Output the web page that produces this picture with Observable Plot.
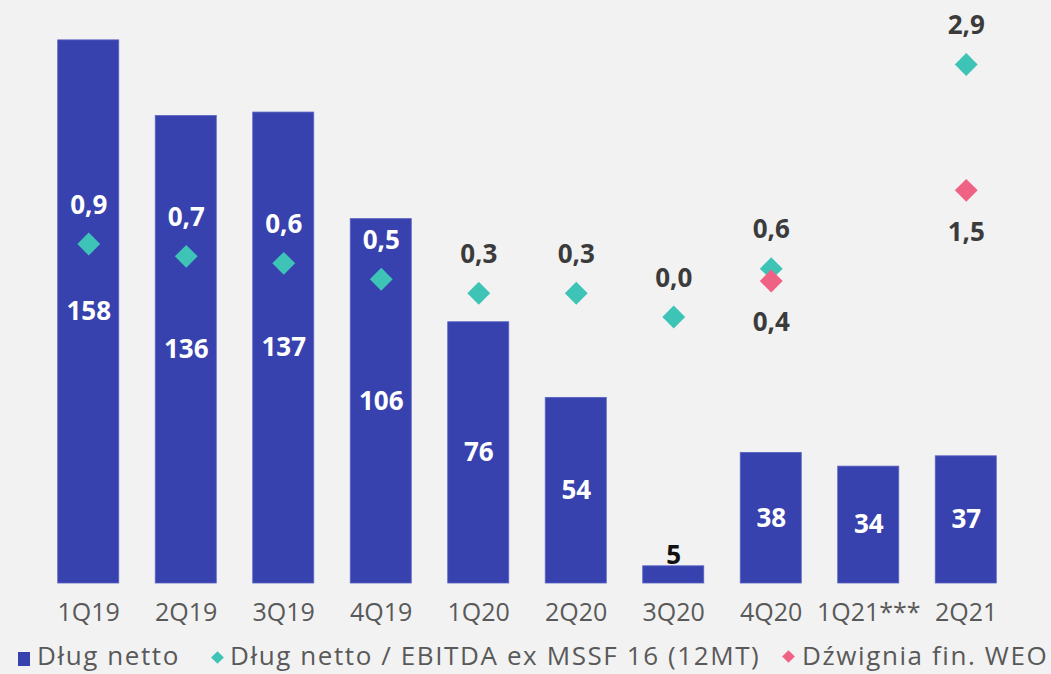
<!DOCTYPE html>
<html>
<head>
<meta charset="utf-8">
<script src="https://cdn.jsdelivr.net/npm/d3@7"></script>
<script src="https://cdn.jsdelivr.net/npm/@observablehq/plot@0.6"></script>
<style>
  html, body { margin: 0; padding: 0; background: #f2f2f2; }
  #wrap { position: relative; width: 1051px; height: 674px; background: #f2f2f2; overflow: hidden;
          font-family: "Open Sans", sans-serif; }
  #wrap > .layer { position: absolute; left: 0; top: 0; }
  .lt { position: absolute; top: 640px; font-size: 26px; line-height: 30px; height: 30px; letter-spacing: 1.6px;
        color: #595959; white-space: nowrap; font-family: "Open Sans", sans-serif; }
  .sq { position: absolute; }
  .dm { position: absolute; width: 9px; height: 9px; transform: rotate(45deg); }
</style>
</head>
<body>
<div id="wrap"></div>
<script>
// ---- data ----
const quarters = ["1Q19", "2Q19", "3Q19", "4Q19", "1Q20", "2Q20", "3Q20", "4Q20", "1Q21***", "2Q21"];
const netDebt = [158, 136, 137, 106, 76, 54, 5, 38, 34, 37];
const ratioQuarters = ["1Q19", "2Q19", "3Q19", "4Q19", "1Q20", "2Q20", "3Q20", "4Q20", "2Q21"];
const ratioValues = [0.86, 0.72, 0.64, 0.46, 0.30, 0.30, 0.03, 0.58, 2.90];
const leverageQuarters = ["4Q20", "2Q21"];
const leverageValues = [0.44, 1.47];
const legendLabels = ["Dług netto", "Dług netto / EBITDA ex MSSF 16 (12MT)", "Dźwignia fin. WEO"];

// ---- styles ----
const BLUE = "#3742ae", TEAL = "#3ec4b7", PINK = "#f06283", DARK = "#3b3b3b";
const W = 1051, H = 632, MB = 49, ML = 39.5, MR = 36.5;
const FONT = "Open Sans, sans-serif";
const xOpts = {domain: quarters, paddingInner: 0.374, paddingOuter: 0.187, align: 0.5, round: false};
const fmt = v => v.toFixed(1).replace(".", ",");

const bars = quarters.map((q, i) => ({q, v: netDebt[i]}));
const ratios = ratioQuarters.map((q, i) => ({q, v: ratioValues[i]}));
const levers = leverageQuarters.map((q, i) => ({q, v: leverageValues[i]}));

const p1 = Plot.plot({
  width: W, height: H, marginTop: 0, marginBottom: MB, marginLeft: ML, marginRight: MR,
  style: {background: "transparent", fontFamily: FONT, overflow: "visible"},
  x: {...xOpts, axis: null},
  y: {domain: [0, 169.6], axis: null},
  marks: [
    Plot.barY(bars, {x: "q", y: "v", fill: BLUE, stroke: "#5a63c2", strokeWidth: 0.8}),
    Plot.ruleY([0], {stroke: "#d9d9d9", strokeWidth: 2, dy: 1, x1: 38, x2: 1013.5}),
    Plot.axisX({tickSize: 0, tickPadding: 20, fontSize: 25, fill: "#595959", label: null}),
    Plot.text(bars.filter(d => d.v >= 20), {x: "q", y: d => d.v / 2, text: d => String(d.v),
      fill: "white", fontWeight: 700, fontSize: 26}),
    Plot.text(bars.filter(d => d.v < 20), {x: "q", y: "v", dy: -11, text: d => String(d.v),
      fill: "#111", fontWeight: 700, fontSize: 26})
  ]
});
p1.classList.add("layer");

const yBar = p1.scale("y");
const barTop = new Map(bars.map(d => [d.q, yBar.apply(d.v)]));

const y2Domain = [-2.998, 3.627];
const y2 = d3.scaleLinear().domain(y2Domain).range([H - MB, 0]);
const insideBar = d => y2(d.v) - 38.5 - 12 > barTop.get(d.q);

const p2 = Plot.plot({
  width: W, height: H, marginTop: 0, marginBottom: MB, marginLeft: ML, marginRight: MR,
  style: {background: "transparent", fontFamily: FONT, overflow: "visible"},
  x: {...xOpts, axis: null},
  y: {domain: y2Domain, axis: null},
  marks: [
    Plot.dot(ratios, {x: "q", y: "v", symbol: "diamond2", r: 10.3, fill: TEAL}),
    Plot.dot(levers, {x: "q", y: "v", symbol: "diamond2", r: 10.3, fill: PINK}),
    Plot.text(ratios, {x: "q", y: "v", dy: -38.5, text: d => fmt(d.v),
      fill: d => insideBar(d) ? "white" : DARK, fontWeight: 700, fontSize: 26}),
    Plot.text(levers, {x: "q", y: "v", dy: 42, text: d => fmt(d.v),
      fill: DARK, fontWeight: 700, fontSize: 26})
  ]
});
p2.classList.add("layer");

const wrap = document.getElementById("wrap");
wrap.appendChild(p1);
wrap.appendChild(p2);

// ---- legend ----
const legend = [
  {marker: "sq", color: BLUE, mx: 18, my: 652, text: legendLabels[0], tx: 37},
  {marker: "dm", color: TEAL, mx: 217, my: 657, text: legendLabels[1], tx: 230},
  {marker: "dm", color: PINK, mx: 788, my: 656.5, text: legendLabels[2], tx: 802}
];
legend.forEach(item => {
  const m = document.createElement("div");
  if (item.marker === "sq") {
    m.className = "sq";
    Object.assign(m.style, {left: item.mx + "px", top: item.my + "px", width: "12px", height: "14px", background: item.color});
  } else {
    m.className = "dm";
    Object.assign(m.style, {left: (item.mx - 4.5) + "px", top: (item.my - 4.5) + "px", background: item.color});
  }
  wrap.appendChild(m);
  const t = document.createElement("span");
  t.className = "lt";
  t.style.left = item.tx + "px";
  t.textContent = item.text;
  wrap.appendChild(t);
});
</script>
</body>
</html>
